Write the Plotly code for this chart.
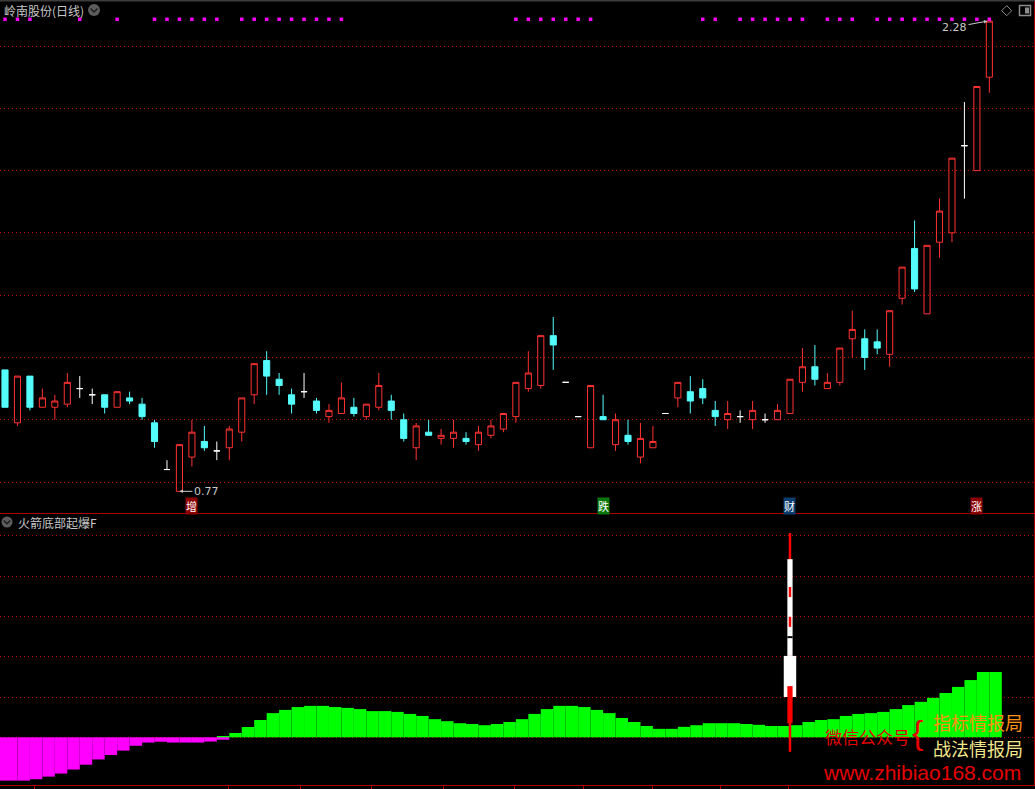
import plotly.graph_objects as go

W, H = 1035, 789

# ---------------- data ----------------
bar_idx = list(range(80))

opens = [1.16, 0.99, 1.14, 1.04, 1.04, 1.05, 1.10, 1.08, 1.08, 1.04,
         1.07, 1.05, 0.99, 0.84, 0.77, 0.88, 0.93, 0.90, 0.91, 0.96,
         1.08, 1.19, 1.13, 1.08, 1.09, 1.06, 1.01, 1.02, 1.04, 1.01,
         1.04, 1.06, 1.00, 0.91, 0.96, 0.94, 0.94, 0.94, 0.92, 0.95,
         0.97, 1.01, 1.10, 1.11, 1.27, 1.12, 1.01, 0.91, 1.01, 0.92,
         0.95, 0.88, 0.91, 1.02, 1.07, 1.09, 1.10, 1.03, 1.00, 1.01,
         1.00, 1.00, 1.00, 1.02, 1.12, 1.17, 1.10, 1.12, 1.26, 1.26,
         1.25, 1.21, 1.39, 1.55, 1.34, 1.57, 1.60, 1.88, 1.80, 2.10]
highs = [1.16, 1.14, 1.14, 1.10, 1.08, 1.15, 1.14, 1.10, 1.08, 1.09,
         1.09, 1.07, 1.00, 0.87, 0.92, 1.00, 0.98, 0.93, 0.98, 1.07,
         1.18, 1.22, 1.15, 1.10, 1.15, 1.07, 1.05, 1.12, 1.07, 1.05,
         1.15, 1.08, 1.02, 0.99, 1.00, 0.97, 1.00, 0.96, 0.98, 1.00,
         1.02, 1.12, 1.22, 1.27, 1.33, 1.12, 1.01, 1.11, 1.08, 1.02,
         1.00, 0.99, 0.98, 1.02, 1.12, 1.14, 1.13, 1.06, 1.06, 1.03,
         1.06, 1.02, 1.05, 1.13, 1.23, 1.24, 1.15, 1.23, 1.35, 1.29,
         1.29, 1.35, 1.49, 1.64, 1.56, 1.71, 1.84, 2.02, 2.07, 2.28]
lows = [1.04, 0.98, 1.03, 1.04, 1.00, 1.04, 1.07, 1.05, 1.02, 1.04,
        1.05, 1.00, 0.91, 0.84, 0.77, 0.85, 0.90, 0.87, 0.87, 0.93,
        1.05, 1.08, 1.08, 1.02, 1.07, 1.02, 0.99, 1.02, 1.01, 1.00,
        1.03, 1.00, 0.93, 0.87, 0.95, 0.92, 0.91, 0.92, 0.90, 0.94,
        0.96, 0.99, 1.09, 1.10, 1.16, 1.12, 1.01, 0.91, 1.00, 0.90,
        0.92, 0.86, 0.91, 1.02, 1.04, 1.02, 1.05, 0.98, 0.97, 0.99,
        0.97, 0.99, 1.00, 1.02, 1.09, 1.11, 1.10, 1.11, 1.20, 1.16,
        1.21, 1.17, 1.37, 1.41, 1.34, 1.52, 1.57, 1.71, 1.80, 2.05]
closes = [1.04, 1.14, 1.04, 1.07, 1.06, 1.12, 1.10, 1.08, 1.04, 1.09,
          1.06, 1.01, 0.93, 0.84, 0.92, 0.96, 0.91, 0.90, 0.97, 1.07,
          1.18, 1.14, 1.11, 1.05, 1.09, 1.03, 1.03, 1.07, 1.02, 1.05,
          1.11, 1.03, 0.94, 0.98, 0.95, 0.95, 0.96, 0.93, 0.96, 0.98,
          1.02, 1.12, 1.15, 1.27, 1.24, 1.12, 1.01, 1.11, 1.00, 1.00,
          0.93, 0.94, 0.93, 1.02, 1.12, 1.06, 1.07, 1.01, 1.02, 1.01,
          1.03, 1.00, 1.03, 1.13, 1.17, 1.13, 1.12, 1.23, 1.29, 1.20,
          1.23, 1.35, 1.49, 1.42, 1.56, 1.67, 1.84, 1.88, 2.07, 2.28]

# magenta signal dots along the top
signal_dots = [0, 1, 2, 6, 9, 12, 13, 14, 15, 16, 17, 19, 20, 21, 22, 23, 24, 25, 26, 27,
               41, 42, 43, 44, 45, 46, 47,
               56, 57, 59, 60, 61, 62, 63, 64, 66, 67, 68, 70, 71, 72, 73, 74, 75, 76, 77, 78, 79]
signal_level = [2.286] * len(signal_dots)

price_grid = [0.8, 1.0, 1.2, 1.4, 1.6, 1.8, 2.0, 2.2]

# indicator panel (火箭底部起爆F)
osc_pos = [0, 0, 0, 0, 0, 0, 0, 0, 0, 0,
           0, 0, 0, 0, 0, 0, 0, 0.3, 1.07, 2.56,
           4.3, 6.0, 6.8, 7.5, 7.8, 7.8, 7.5, 7.3, 7.0, 6.5,
           6.5, 6.3, 5.8, 5.3, 4.5, 4.0, 3.5, 3.3, 3.0, 3.3,
           3.8, 4.5, 5.8, 7.0, 7.8, 7.8, 7.5, 6.8, 6.0, 4.8,
           3.8, 2.8, 2.1, 2.1, 2.6, 3.0, 3.5, 3.5, 3.5, 3.3,
           3.1, 2.8, 2.8, 3.0, 3.8, 4.3, 4.5, 5.3, 5.8, 6.0,
           6.3, 7.0, 8.0, 8.8, 9.8, 11.0, 12.5, 14.2, 16.2, 16.2]
osc_neg = [-10.75, -10.75, -10.4, -9.76, -9.0, -8.0, -6.8, -5.5, -4.4, -3.3,
           -2.1, -1.3, -1.1, -1.3, -1.3, -1.3, -1.05, -0.6, 0, 0,
           0, 0, 0, 0, 0, 0, 0, 0, 0, 0,
           0, 0, 0, 0, 0, 0, 0, 0, 0, 0,
           0, 0, 0, 0, 0, 0, 0, 0, 0, 0,
           0, 0, 0, 0, 0, 0, 0, 0, 0, 0,
           0, 0, 0, 0, 0, 0, 0, 0, 0, 0,
           0, 0, 0, 0, 0, 0, 0, 0, 0, 0]
osc_grid = [0, 10, 20, 30, 40, 50]

# rocket signal (drawn at bar 63)
rocket_bar = 63
rocket_base = [-3.6, 20.2, 10.0, 34.8, 27.4, 24.6, 3.5]
rocket_top = [50.7, 44.2, 20.2, 37.3, 29.9, 25.1, 12.7]
rocket_w = [0.2, 0.42, 1.0, 0.2, 0.2, 0.42, 0.42]
rocket_col = ['#ff0000', '#ffffff', '#ffffff', '#ff0000', '#ff0000', '#000000', '#ff0000']

low_mark = (14, 0.77)
high_mark = (78.85, 2.28)
event_labels = [("增", 15, "#8c0000"), ("跌", 48, "#0a780a"), ("财", 63, "#0c3c70"), ("涨", 78, "#8c0000")]
bottom_ticks = [2.33, 17.9, 23.7, 29.4, 35.2, 40.9, 46.4, 52.0, 57.4, 62.9]

# ---------------- style / geometry ----------------
RED = '#ff3232'
CYAN = '#54fcfc'
GRID = '#c00000'
SEP = '#aa0000'
TXT = '#c8c8c8'
CJK = 'Noto Sans CJK SC'


def px(x):
    return x / W


def py(y):
    return (H - y) / H


XSTEP, X0 = 12.46, 5.0
x_range = [(0 - X0) / XSTEP, (1034 - X0) / XSTEP]
PPX = 311.4  # px per price unit
y_top_range = [0.8 - (513 - 482) / PPX, 0.8 + (482 - 1) / PPX]
OPX = 4.03  # px per osc unit
y_bot_range = [-(785 - 737.3) / OPX, (737.3 - 514) / OPX]


def pick(mask, arr):
    return [v if m else None for v, m in zip(arr, mask)]


up = [c > o for o, c in zip(opens, closes)]
dn = [c < o for o, c in zip(opens, closes)]
dj = [c == o for o, c in zip(opens, closes)]

fig = go.Figure()

fig.add_trace(go.Scatter(x=signal_dots, y=signal_level, mode='markers',
                         marker=dict(symbol='square', size=3.5, color='#ff00ff', line=dict(width=0)),
                         xaxis='x', yaxis='y', hoverinfo='skip'))


def candle(mask, line_col, fill_col):
    return go.Candlestick(
        x=bar_idx, open=pick(mask, opens), high=pick(mask, highs), low=pick(mask, lows),
        close=pick(mask, closes), whiskerwidth=0,
        increasing=dict(line=dict(color=line_col, width=1), fillcolor=fill_col),
        decreasing=dict(line=dict(color=line_col, width=1), fillcolor=fill_col),
        xaxis='x', yaxis='y', hoverinfo='skip')


fig.add_trace(candle(up, RED, 'rgba(0,0,0,0)'))
fig.add_trace(candle(dn, CYAN, CYAN))
fig.add_trace(candle(dj, '#ffffff', '#ffffff'))

offs = [-0.5] + [0] * (len(bar_idx) - 1)
wids = [1.5] + [1] * (len(bar_idx) - 1)
fig.add_trace(go.Bar(x=bar_idx, y=osc_pos, offset=offs, width=wids,
                     marker=dict(color='#00ff00', line=dict(width=0)),
                     xaxis='x2', yaxis='y2', hoverinfo='skip'))
fig.add_trace(go.Bar(x=bar_idx, y=osc_neg, offset=offs, width=wids,
                     marker=dict(color='#ff00ff', line=dict(width=0)),
                     xaxis='x2', yaxis='y2', hoverinfo='skip'))
fig.add_trace(go.Bar(x=[rocket_bar] * len(rocket_base),
                     y=[t - b for t, b in zip(rocket_top, rocket_base)],
                     base=rocket_base, width=rocket_w,
                     marker=dict(color=rocket_col, line=dict(width=0)),
                     xaxis='x2', yaxis='y2', hoverinfo='skip'))


def note(x, y, text, size, color, family=CJK, xanchor='center'):
    return dict(xref='paper', yref='paper', x=px(x), y=py(y), xanchor=xanchor, yanchor='middle',
                text=text, showarrow=False, font=dict(family=family, size=size, color=color))


annotations = [
    note(2, 10, '岭南股份(日线)', 12, TXT, xanchor='left'),
    note(16, 522, '火箭底部起爆F', 12, TXT, xanchor='left'),
    dict(xref='x', yref='y', x=low_mark[0], y=low_mark[1], text=f'{low_mark[1]:.2f}',
         showarrow=True, ax=27, ay=0, arrowhead=2, arrowsize=0.7, arrowwidth=1, arrowcolor=TXT,
         font=dict(family='DejaVu Sans', size=11, color=TXT)),
    dict(xref='x', yref='y', x=high_mark[0], y=high_mark[1], text=f'{high_mark[1]:.2f}',
         showarrow=True, ax=-33, ay=6, arrowhead=2, arrowsize=0.7, arrowwidth=1, arrowcolor=TXT,
         font=dict(family='DejaVu Sans', size=11, color=TXT)),
    note(867, 736, '微信公众号', 17, '#e60000'),
    note(917, 732, '{', 34, '#e60000', family='Liberation Sans'),
    note(978, 722, '指标情报局', 18, '#ff9010'),
    note(978, 748, '战法情报局', 18, '#f0e68c'),
    note(922, 772, 'www.zhibiao168.com', 21, '#e60000', family='Liberation Sans'),
]
for ch, idx, col in event_labels:
    annotations.append(dict(xref='x', yref='paper', x=idx, y=py(505.5), yanchor='middle',
                            text=ch, showarrow=False, bgcolor=col, borderpad=0,
                            font=dict(family=CJK, size=11, color='#ffffff')))

shapes = [
    dict(type='line', xref='paper', yref='paper', x0=0, x1=1, y0=py(0.5), y1=py(0.5),
         line=dict(color='#3c3c3c', width=2)),
    dict(type='circle', xref='paper', yref='paper', x0=px(88), x1=px(100), y0=py(16), y1=py(4),
         fillcolor='#5c5c5c', line=dict(width=0)),
    dict(type='path', xref='paper', yref='paper',
         path=f'M {px(90.5)} {py(8.5)} L {px(94)} {py(12)} L {px(97.5)} {py(8.5)}',
         line=dict(color='#1e1e1e', width=1.5)),
    dict(type='circle', xref='paper', yref='paper', x0=px(1.5), x1=px(12.5), y0=py(527.5), y1=py(516.5),
         fillcolor='#5c5c5c', line=dict(width=0)),
    dict(type='path', xref='paper', yref='paper',
         path=f'M {px(3.8)} {py(520.5)} L {px(7)} {py(523.7)} L {px(10.2)} {py(520.5)}',
         line=dict(color='#1e1e1e', width=1.5)),
    dict(type='path', xref='paper', yref='paper',
         path=f'M {px(1006.7)} {py(5.7)} L {px(1011.7)} {py(10.7)} L {px(1006.7)} {py(15.7)} L {px(1001.7)} {py(10.7)} Z',
         line=dict(color='#8c8c8c', width=1)),
    dict(type='rect', xref='paper', yref='paper', x0=px(1019.5), x1=px(1030.5), y0=py(15.5), y1=py(5.5),
         line=dict(color='#8c8c8c', width=1.5)),
    dict(type='rect', xref='paper', yref='paper', x0=px(1025), x1=px(1029), y0=py(13.5), y1=py(7.5),
         fillcolor='#8c8c8c', line=dict(width=0)),
]

axis_common = dict(showgrid=False, zeroline=False, showticklabels=False, fixedrange=True)
fig.update_layout(
    width=W, height=H, margin=dict(l=0, r=0, t=0, b=0),
    paper_bgcolor='#000000', plot_bgcolor='#000000',
    showlegend=False, barmode='overlay', hovermode=False,
    xaxis=dict(domain=[0, 1034 / W], range=x_range, anchor='y', rangeslider=dict(visible=False),
               showline=True, linecolor=SEP, linewidth=1, **axis_common),
    yaxis=dict(domain=[py(513), py(1)], range=y_top_range, anchor='x', side='right',
               tickvals=price_grid, showticklabels=False, showgrid=True, gridcolor=GRID,
               griddash='1px,3px', gridwidth=1, zeroline=False, showline=True, linecolor=SEP,
               fixedrange=True),
    xaxis2=dict(domain=[0, 1034 / W], range=x_range, anchor='y2', showline=True, linecolor=SEP,
                linewidth=1, ticks='outside', tickvals=bottom_ticks, ticklen=3, tickcolor=SEP,
                tickwidth=1, **axis_common),
    yaxis2=dict(domain=[py(785), py(514)], range=y_bot_range, anchor='x2', side='right',
                tickvals=osc_grid, showticklabels=False, showgrid=True, gridcolor=GRID,
                griddash='1px,3px', gridwidth=1, zeroline=False, showline=True, linecolor=SEP,
                fixedrange=True),
    annotations=annotations, shapes=shapes,
)

fig.write_html("out.html", config={'displayModeBar': False},
               post_script="document.body.style.margin='0';document.body.style.overflow='hidden';")
